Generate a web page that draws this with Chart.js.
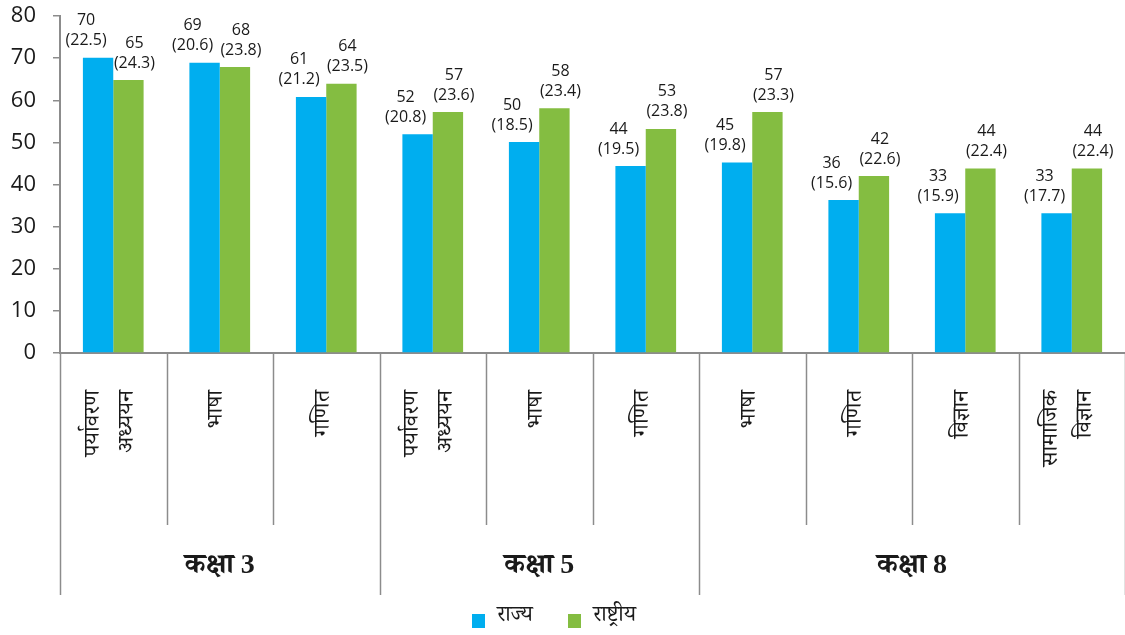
<!DOCTYPE html>
<html>
<head>
<meta charset="utf-8">
<script src="https://cdn.jsdelivr.net/npm/chart.js@4.4.1/dist/chart.umd.min.js"></script>
<style>
  html, body { margin: 0; padding: 0; background: #fff; }
  #wrap { width: 1125px; height: 635px; }
</style>
</head>
<body>
<div id="wrap"><canvas id="chart"></canvas></div>
<script>
// विषय (हर पंक्ति एक अलग लाइन में)
const subjects = [
  ['पर्यावरण', 'अध्ययन'], ['भाषा'], ['गणित'],
  ['पर्यावरण', 'अध्ययन'], ['भाषा'], ['गणित'],
  ['भाषा'], ['गणित'], ['विज्ञान'], ['सामाजिक', 'विज्ञान']
];
const classGroups = ['कक्षा 3', 'कक्षा 5', 'कक्षा 8'];
const groupSizes = [3, 3, 4];

const stateValues    = [70.1, 68.9, 60.8, 51.9, 50.1, 44.4, 45.2, 36.3, 33.2, 33.2];
const nationalValues = [64.8, 67.9, 63.9, 57.2, 58.1, 53.2, 57.2, 42.0, 43.8, 43.8];
const stateMean    = ['70', '69', '61', '52', '50', '44', '45', '36', '33', '33'];
const stateSD      = ['22.5', '20.6', '21.2', '20.8', '18.5', '19.5', '19.8', '15.6', '15.9', '17.7'];
const nationalMean = ['65', '68', '64', '57', '58', '53', '57', '42', '44', '44'];
const nationalSD   = ['24.3', '23.8', '23.5', '23.6', '23.4', '23.8', '23.3', '22.6', '22.4', '22.4'];
const yTicks = [0, 10, 20, 30, 40, 50, 60, 70, 80];

const BLUE = '#00aeef';
const GREEN = '#84bd41';
const LINE = '#8c8c8c';
const SANS = "'Open Sans', 'Noto Sans', 'Noto Sans Devanagari', sans-serif";
const DEVA = "'Noto Serif Devanagari', 'Noto Sans Devanagari', 'Lohit Devanagari', 'Noto Sans', sans-serif";
const SERIF = "'Liberation Serif', 'Noto Serif Devanagari', 'Noto Sans Devanagari', serif";

const meanLabels = [stateMean, nationalMean];
const sdLabels = [stateSD, nationalSD];
const labelShift = [-12, 6];

// बार के ऊपर मान, श्रेणी नाम, विभाजक रेखाएँ, कक्षा समूह और लेजेंड
const decorPlugin = {
  id: 'decor',
  afterDraw(chart) {
    const ctx = chart.ctx;
    const x = chart.scales.x;
    const area = chart.chartArea;
    const n = subjects.length;
    const w = (x.right - x.left) / n;

    ctx.save();
    ctx.fillStyle = '#1a1a1a';
    ctx.font = '16px ' + SANS;
    ctx.textAlign = 'center';
    ctx.textBaseline = 'middle';
    chart.data.datasets.forEach((ds, di) => {
      chart.getDatasetMeta(di).data.forEach((bar, i) => {
        const cx = bar.x + labelShift[di];
        ctx.fillText(meanLabels[di][i], cx, bar.y - 37);
        ctx.fillText('(' + sdLabels[di][i] + ')', cx, bar.y - 17);
      });
    });

    // विभाजक रेखाएँ
    ctx.strokeStyle = LINE;
    ctx.lineWidth = 1.5;
    const groupEdges = [0];
    groupSizes.reduce((acc, s) => { acc += s; groupEdges.push(acc); return acc; }, 0);
    for (let k = 0; k <= n; k++) {
      const px = Math.round(x.left + k * w) + 0.5;
      const long = groupEdges.includes(k);
      ctx.beginPath();
      ctx.moveTo(px, area.bottom);
      ctx.lineTo(px, long ? 595 : 525);
      ctx.stroke();
    }

    // श्रेणी नाम (घुमाए हुए)
    ctx.font = '23px ' + DEVA;
    ctx.textAlign = 'right';
    ctx.textBaseline = 'middle';
    subjects.forEach((lines, i) => {
      const cx = x.getPixelForValue(i);
      const gap = 34;
      lines.forEach((line, li) => {
        const off = (li - (lines.length - 1) / 2) * gap;
        ctx.save();
        ctx.translate(cx + off, area.bottom + 37);
        ctx.rotate(-Math.PI / 2);
        ctx.fillText(line, 0, 0);
        ctx.restore();
      });
    });

    // कक्षा समूह
    ctx.font = 'bold 28px ' + SERIF;
    ctx.textAlign = 'center';
    classGroups.forEach((g, gi) => {
      const cx = x.left + (groupEdges[gi] + groupEdges[gi + 1]) / 2 * w;
      ctx.fillText(g, cx, 566);
    });

    // लेजेंड
    ctx.font = '22px ' + DEVA;
    ctx.textAlign = 'left';
    const legendX = [472, 568];
    chart.data.datasets.forEach((ds, di) => {
      ctx.fillStyle = ds.backgroundColor;
      ctx.fillRect(legendX[di], 614, 13, 14);
      ctx.fillStyle = '#1a1a1a';
      ctx.fillText(ds.label, legendX[di] + 25, 619);
    });
    ctx.restore();
  }
};

new Chart(document.getElementById('chart'), {
  type: 'bar',
  data: {
    labels: subjects.map(s => s.join(' ')),
    datasets: [
      { label: 'राज्य', data: stateValues, backgroundColor: BLUE,
        categoryPercentage: 0.57, barPercentage: 1.0 },
      { label: 'राष्ट्रीय', data: nationalValues, backgroundColor: GREEN,
        categoryPercentage: 0.57, barPercentage: 1.0 }
    ]
  },
  options: {
    responsive: true,
    maintainAspectRatio: false,
    animation: false,
    layout: { padding: { top: 16, right: 0, left: 0, bottom: 0 } },
    plugins: {
      legend: { display: false },
      tooltip: { enabled: false }
    },
    scales: {
      x: {
        ticks: { display: false },
        grid: { display: false },
        border: { display: true, color: LINE, width: 2 },
        afterFit(scale) { scale.height = 635 - 353; }
      },
      y: {
        min: 0,
        max: 80,
        afterBuildTicks(scale) { scale.ticks = yTicks.map(v => ({ value: v })); },
        ticks: { color: '#1a1a1a', font: { size: 22, family: SANS }, padding: 17 },
        grid: { drawOnChartArea: false, drawTicks: true, tickLength: 7, color: LINE, lineWidth: 1.5 },
        border: { display: true, color: LINE, width: 2 },
        afterFit(scale) {
          scale.width = 60;
          scale.paddingTop = 0;
          scale.paddingBottom = 0;
        }
      }
    }
  },
  plugins: [decorPlugin]
});
</script>
</body>
</html>
